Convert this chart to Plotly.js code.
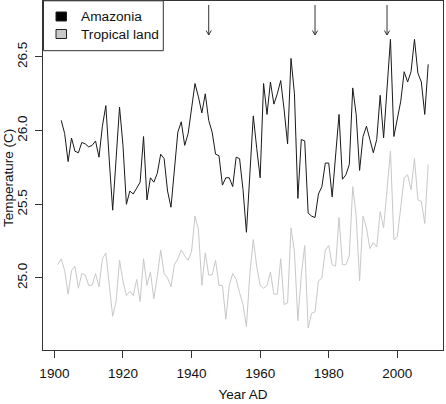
<!DOCTYPE html>
<html>
<head>
<meta charset="utf-8">
<script src="https://cdn.plot.ly/plotly-3.0.1.min.js"></script>
<style>html,body{margin:0;padding:0;background:#fff;}#chart{width:446px;height:404px;}</style>
</head>
<body>
<div id="chart"></div>
<script>
// ---- data ----
const amazoniaYears = [];
for (let y = 1902; y <= 2009; y++) amazoniaYears.push(y);
const amazoniaTemp = [
  26.07, 25.98, 25.79, 25.95, 25.86, 25.85, 25.92, 25.91, 25.89, 25.90, // 1902-1911
  25.93, 25.82, 26.03, 26.17, 25.80, 25.46, 25.81, 26.16, 25.90, 25.50, // 1912-1921
  25.59, 25.57, 25.61, 25.65, 25.96, 25.53, 25.68, 25.65, 25.71, 25.84, // 1922-1931
  25.81, 25.59, 25.48, 25.71, 25.99, 26.06, 25.90, 25.98, 26.16, 26.32, // 1932-1941
  26.23, 26.12, 26.25, 26.07, 25.99, 25.84, 25.83, 25.63, 25.68, 25.68, // 1942-1951
  25.62, 25.82, 25.81, 25.60, 25.31, 25.71, 26.10, 25.88, 25.68, 26.32, // 1952-1961
  26.11, 26.33, 26.18, 26.25, 26.34, 26.14, 25.91, 26.49, 26.25, 25.54, // 1962-1971
  25.94, 25.93, 25.44, 25.42, 25.41, 25.57, 25.62, 25.78, 25.78, 25.55, // 1972-1981
  25.83, 26.11, 25.67, 25.70, 25.77, 26.29, 26.11, 25.73, 25.96, 26.03, // 1982-1991
  25.94, 25.85, 25.94, 26.24, 25.95, 26.28, 26.62, 25.96, 26.08, 26.20, // 1992-2001
  26.40, 26.33, 26.40, 26.62, 26.39, 26.33, 26.11, 26.45              // 2002-2009
];
const tropicalYears = [];
for (let y = 1901; y <= 2009; y++) tropicalYears.push(y);
const tropicalTemp = [
  25.09, 25.13, 25.05, 24.89, 25.05, 25.08, 24.93, 25.03, 25.02, 24.95, // 1901-1910
  24.95, 25.03, 24.94, 25.13, 25.17, 24.96, 24.74, 24.84, 25.12, 24.98, // 1911-1920
  24.88, 24.91, 24.88, 24.99, 24.84, 25.13, 24.95, 25.04, 24.86, 25.01, // 1921-1930
  25.19, 25.03, 25.00, 24.94, 25.09, 25.13, 25.19, 25.15, 25.12, 25.18, // 1931-1940
  25.42, 25.33, 24.95, 25.17, 25.02, 25.02, 25.12, 24.95, 24.95, 24.72, // 1941-1950
  24.95, 25.03, 24.99, 24.90, 24.82, 24.67, 25.03, 25.26, 25.08, 24.95, // 1951-1960
  24.93, 24.95, 25.04, 24.89, 24.89, 25.13, 24.82, 24.83, 25.34, 25.18, // 1961-1970
  24.71, 25.02, 25.22, 24.66, 24.76, 24.77, 24.98, 25.00, 25.19, 25.22, // 1971-1980
  25.09, 25.08, 25.41, 25.09, 25.09, 25.15, 25.62, 25.42, 24.98, 25.42, // 1981-1990
  25.34, 25.20, 25.24, 25.21, 25.45, 25.34, 25.60, 25.86, 25.26, 25.28, // 1991-2000
  25.48, 25.68, 25.70, 25.60, 25.81, 25.53, 25.52, 25.37, 25.77        // 2001-2009
];
const seriesNames = ['Amazonia', 'Tropical land'];
const arrowYears = [1945, 1976, 1997];
const xTicks = [1900, 1920, 1940, 1960, 1980, 2000];
const yTicks = [25.0, 25.5, 26.0, 26.5];
const yTickText = ['25.0', '25.5', '26.0', '26.5'];

// ---- styling ----
const FONT = 'Liberation Sans, Arial, Helvetica, sans-serif';
const FS = 13.5;
const AX = '#333333';
const lineColors = ['#1a1a1a', '#c8c8c8'];
const legendFill = ['#000000', '#c8c8c8'];

const W = 446, H = 404, ML = 43, MR = 3, MT = 1, MB = 54;
const PW = W - ML - MR, PH = H - MT - MB;
const px2x = p => (p - ML) / PW;
const py2y = p => (H - MB - p) / PH;

const yRange = [24.511, 26.880];
const xRange = [1896.68, 2013.32];
const yPerPx = (yRange[1] - yRange[0]) / PH;
const xPerPx = (xRange[1] - xRange[0]) / PW;

const traces = [
  {x: tropicalYears, y: tropicalTemp, type: 'scatter', mode: 'lines', name: seriesNames[1],
   line: {color: lineColors[1], width: 1}, hoverinfo: 'skip'},
  {x: amazoniaYears, y: amazoniaTemp, type: 'scatter', mode: 'lines', name: seriesNames[0],
   line: {color: lineColors[0], width: 1}, hoverinfo: 'skip'}
];

const shapes = [];
const annotations = [];

// arrows (open V heads)
const arrowTopPx = 5, arrowTipPx = 35, headLenPx = 4.5, headHalfPx = 2.6;
const yAt = p => yRange[1] - (p - MT) * yPerPx;
arrowYears.forEach(yr => {
  shapes.push({type: 'line', xref: 'x', yref: 'y', x0: yr, x1: yr, y0: yAt(arrowTopPx), y1: yAt(arrowTipPx),
    line: {color: AX, width: 1}});
  const hx = headHalfPx * xPerPx;
  const tip = yAt(arrowTipPx), back = yAt(arrowTipPx - headLenPx);
  shapes.push({type: 'path', xref: 'x', yref: 'y',
    path: `M ${yr - hx} ${back} L ${yr} ${tip} L ${yr + hx} ${back}`,
    line: {color: AX, width: 1}});
});

// legend box
shapes.push({type: 'rect', xref: 'paper', yref: 'paper', x0: px2x(43.5), x1: px2x(163.3), y0: py2y(50.7), y1: py2y(0.8),
  line: {color: AX, width: 1}, fillcolor: 'rgba(255,255,255,1)', layer: 'above'});
const legendRows = [16.5, 34];
seriesNames.forEach((nm, i) => {
  const cy = legendRows[i];
  shapes.push({type: 'rect', xref: 'paper', yref: 'paper', x0: px2x(56), x1: px2x(66.5), y0: py2y(cy + 4.5), y1: py2y(cy - 4.5),
    line: {color: '#222', width: 1}, fillcolor: legendFill[i], layer: 'above'});
  annotations.push({xref: 'paper', yref: 'paper', x: px2x(79), y: py2y(cy), xanchor: 'left', yanchor: 'middle',
    text: nm, showarrow: false, font: {family: FONT, size: 13.7, color: '#111'}});
});

// y-axis title
annotations.push({xref: 'paper', yref: 'paper', x: px2x(8), y: py2y(178), xanchor: 'center', yanchor: 'middle',
  text: 'Temperature (C)', textangle: -90, showarrow: false, font: {family: FONT, size: FS, color: '#111'}});

const layout = {
  width: W, height: H,
  margin: {l: ML, r: MR, t: MT, b: MB, pad: 0},
  paper_bgcolor: '#fff', plot_bgcolor: '#fff',
  showlegend: false,
  font: {family: FONT, size: FS, color: '#111'},
  xaxis: {
    range: xRange, tickvals: xTicks, ticktext: xTicks.map(String),
    ticks: 'outside', ticklen: 7, tickwidth: 1, tickcolor: AX,
    showline: true, linecolor: AX, linewidth: 1, mirror: true,
    showgrid: false, zeroline: false,
    tickfont: {family: FONT, size: FS, color: '#111'},
    ticklabelstandoff: 4,
    title: {text: 'Year AD', font: {family: FONT, size: FS, color: '#111'}, standoff: 9}
  },
  yaxis: {
    range: yRange, tickvals: yTicks, ticktext: yTickText,
    ticks: 'outside', ticklen: 7, tickwidth: 1, tickcolor: AX, tickangle: -90,
    showline: true, linecolor: AX, linewidth: 1, mirror: true,
    showgrid: false, zeroline: false,
    tickfont: {family: FONT, size: FS, color: '#111'},
    ticklabelstandoff: 3
  },
  shapes: shapes,
  annotations: annotations
};

Plotly.newPlot('chart', traces, layout, {displayModeBar: false, staticPlot: true});
</script>
</body>
</html>
